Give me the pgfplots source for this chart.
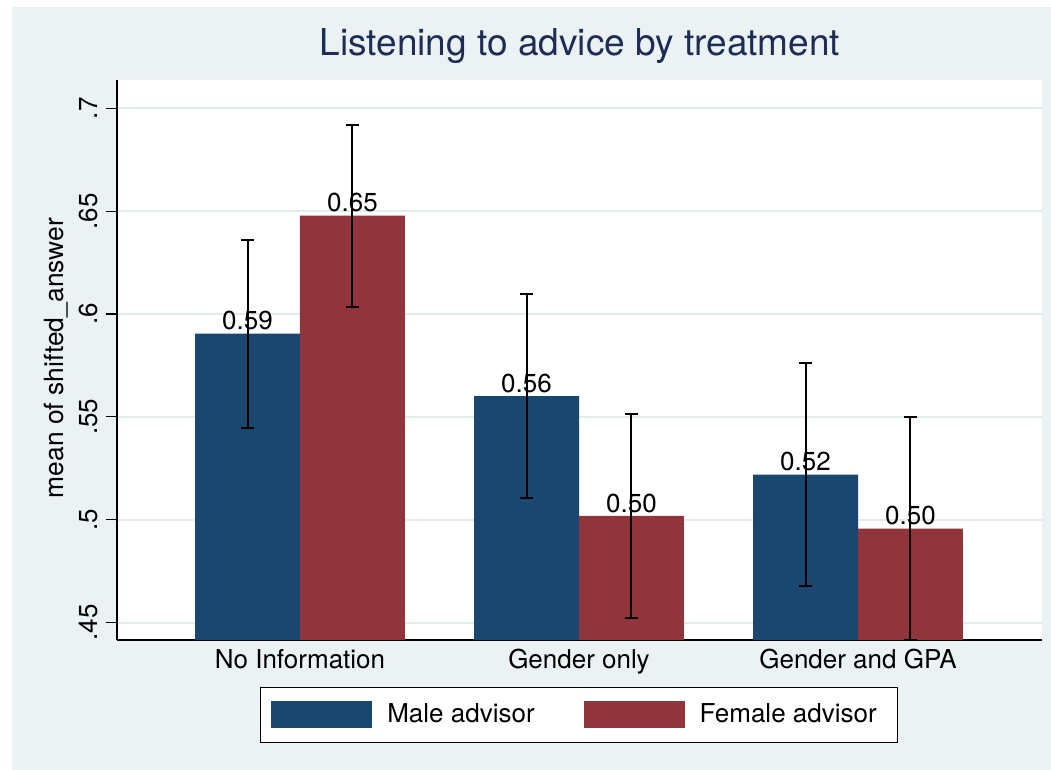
\documentclass[border=0pt]{standalone}
\usepackage{fontspec}
\setmainfont{TeX Gyre Heros}
\usepackage{pgfplots}
\usepackage{pgfplotstable}
\pgfplotsset{compat=1.18}

\definecolor{stnavy}{RGB}{26,71,111}
\definecolor{stmaroon}{RGB}{144,53,59}
\definecolor{stbg}{RGB}{234,242,243}
\definecolor{stgrid}{RGB}{226,236,238}
\definecolor{sttitle}{RGB}{30,45,83}

% mean and half-width of the confidence interval, by treatment
\pgfplotstableread{
x y e
1 0.5905 0.0457
2 0.5601 0.0494
3 0.5219 0.0543
}\male
\pgfplotstableread{
x y e
1 0.6478 0.0443
2 0.5018 0.0497
3 0.4957 0.0542
}\female

\begin{document}
\begin{tikzpicture}
\fill[white] (0,0) rectangle (525.5pt,385pt);
\fill[stbg] (6pt,0) rectangle (525.5pt,381.5pt);
\begin{axis}[
  at={(58.5pt,65pt)}, anchor=south west,
  scale only axis, width=462.5pt, height=280pt,
  xmin=0.3441, xmax=3.6595, ymin=0.4415, ymax=0.7138,
  axis background/.style={fill=white},
  axis x line*=bottom, axis y line*=left,
  axis line style={-, black, line width=0.75pt},
  ybar=0pt, bar width=0.3763,
  xtick={1,2,3}, xticklabels={No Information, Gender only, Gender and GPA},
  xtick style={draw=none},
  ytick={0.45,0.5,0.55,0.6,0.65,0.7}, yticklabels={.45,.5,.55,.6,.65,.7},
  tick align=outside, major tick length=5.5pt,
  ytick style={black, line width=0.6pt},
  ymajorgrids, major grid style={stgrid, line width=1pt},
  ticklabel style={font=\fontsize{13}{13}\selectfont},
  yticklabel style={rotate=90, anchor=south, inner sep=0pt},
  yticklabel shift=4pt,
  xticklabel style={anchor=north, inner sep=0pt, yshift=1pt},
  ylabel={mean of shifted\_answer},
  ylabel style={font=\fontsize{13.2}{13}\selectfont, at={(axis description cs:-0.066,0.5036)}, anchor=center},
  title={Listening to advice by treatment},
  title style={font=\fontsize{18.5}{18.5}\selectfont, color=sttitle, at={(axis description cs:0.5005,1.0232)}, anchor=base, yshift=0pt},
  nodes near coords={\pgfmathprintnumber[fixed,fixed zerofill,precision=2]{\pgfplotspointmeta}},
  every node near coord/.append style={font=\fontsize{13}{13}\selectfont, black, inner sep=0pt, yshift=1.5pt},
  /pgf/number format/assume math mode=true,
  error bars/y dir=both, error bars/y explicit,
  error bars/error bar style={black, line width=1pt},
  error bars/error mark options={rotate=90, mark size=3.25pt, line width=1pt, black},
  legend columns=2,
  legend style={at={(0.4995,-0.1339)}, anchor=center, draw=black, line width=0.6pt,
    fill=white, inner xsep=5.5pt, inner ysep=7pt, font=\fontsize{13}{13}\selectfont,
    nodes={inner sep=0pt},
    /tikz/every odd column/.append style={column sep=7.5pt},
    /tikz/every even column/.append style={column sep=24.5pt}},
  legend image code/.code={\fill[#1] (0pt,-6.75pt) rectangle (50.5pt,6.75pt);},
]
\addplot[fill=stnavy, draw=none] table[x=x, y=y, y error=e] {\male};
\addplot[fill=stmaroon, draw=none] table[x=x, y=y, y error=e] {\female};
\legend{Male advisor, Female advisor\hspace*{5pt}}
\end{axis}
\pgfresetboundingbox
\useasboundingbox (0,0) rectangle (525.5pt,385pt);
\end{tikzpicture}
\end{document}
